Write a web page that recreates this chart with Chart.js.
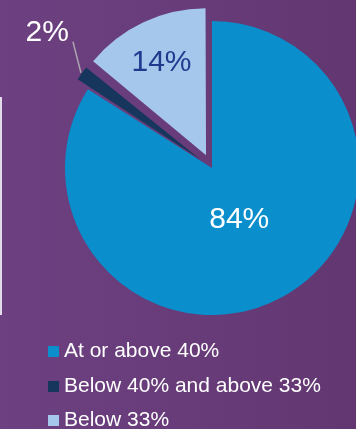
<!DOCTYPE html>
<html>
<head>
<meta charset="utf-8">
<script src="https://cdn.jsdelivr.net/npm/chart.js@4.4.1/dist/chart.umd.min.js"></script>
<style>
  html, body { margin:0; padding:0; width:356px; height:429px; overflow:hidden; }
  body { background: linear-gradient(to right, #6d4181, #623771); position:relative; font-family:"Liberation Sans", Arial, sans-serif; }
  #wrap { position:absolute; left:0; top:0; width:356px; height:429px; }
  #frame { position:absolute; left:0; top:97px; width:2px; height:218px; background:#e4dcea; }
  #legend { position:absolute; left:48px; top:333px; color:#fff; font-size:21px; line-height:34.5px; white-space:nowrap; }
  #legend .sw { display:inline-block; width:11px; height:11px; margin-right:5px; }
</style>
</head>
<body>
<div id="frame"></div>
<div id="wrap"><canvas id="c" width="356" height="429"></canvas></div>
<div id="legend"></div>
<script>
const categories = ["At or above 40%", "Below 40% and above 33%", "Below 33%"];
const values = [84, 2, 14];
const valueLabels = ["84%", "2%", "14%"];
const colors = ["#0a8ecc", "#16365d", "#a5c7ec"];
const labelColors = ["#ffffff", "#ffffff", "#1f3b8e"];

const RADIUS = 147;
const OFFSETS = [0, 56, 56]; // Chart.js translates arcs by offset/4

// keep exploded slices the same radius as the main slice
const radiusFix = {
  id: 'radiusFix',
  afterDatasetsUpdate(chart) {
    const meta = chart.getDatasetMeta(0);
    meta.data.forEach((arc, i) => {
      const off = (OFFSETS[i] || 0) / 4;
      const fix = 1 - Math.sin(Math.min(Math.PI, arc.circumference || 0));
      arc.outerRadius = RADIUS - off * fix;
    });
  }
};

const sliceLabels = {
  id: 'sliceLabels',
  afterDatasetsDraw(chart) {
    const ctx = chart.ctx;
    const meta = chart.getDatasetMeta(0);
    ctx.save();
    ctx.font = '30px "Liberation Sans", Arial, sans-serif';
    meta.data.forEach((arc, i) => {
      const mid = (arc.startAngle + arc.endAngle) / 2;
      const off = (OFFSETS[i] || 0) / 4;
      const tx = arc.x + Math.cos(mid) * off;
      const ty = arc.y + Math.sin(mid) * off;
      ctx.fillStyle = labelColors[i];
      if (i === 1) {
        // outside label with leader line
        const sx = tx + Math.cos(mid) * (RADIUS + 1);
        const sy = ty + Math.sin(mid) * (RADIUS + 1);
        const ex = sx - 8, ey = sy - 31;
        ctx.strokeStyle = '#a9a4ad';
        ctx.lineWidth = 1.5;
        ctx.beginPath(); ctx.moveTo(sx, sy); ctx.lineTo(ex, ey); ctx.stroke();
        ctx.textAlign = 'right';
        ctx.textBaseline = 'alphabetic';
        ctx.fillText(valueLabels[i], ex - 4, ey - 1);
      } else {
        const f = i === 0 ? 0.385 : 0.712;
        const cx = tx + Math.cos(mid) * RADIUS * f;
        const cy = ty + Math.sin(mid) * RADIUS * f;
        ctx.textAlign = 'center';
        ctx.textBaseline = 'alphabetic';
        ctx.fillText(valueLabels[i], cx, cy + 10.7);
      }
    });
    ctx.restore();
  }
};

new Chart(document.getElementById('c'), {
  type: 'pie',
  data: {
    labels: categories,
    datasets: [{
      data: values,
      backgroundColor: colors,
      borderWidth: 0,
      offset: OFFSETS,
      radius: RADIUS
    }]
  },
  options: {
    responsive: false,
    animation: false,
    events: [],
    layout: { padding: { left: 68, right: 0, top: 0, bottom: 93 } },
    plugins: { legend: { display: false }, tooltip: { enabled: false } }
  },
  plugins: [radiusFix, sliceLabels]
});

const lg = document.getElementById('legend');
categories.forEach((c, i) => {
  const row = document.createElement('div');
  const sw = document.createElement('span');
  sw.className = 'sw';
  sw.style.background = colors[i];
  row.appendChild(sw);
  row.appendChild(document.createTextNode(c));
  lg.appendChild(row);
});
</script>
</body>
</html>
